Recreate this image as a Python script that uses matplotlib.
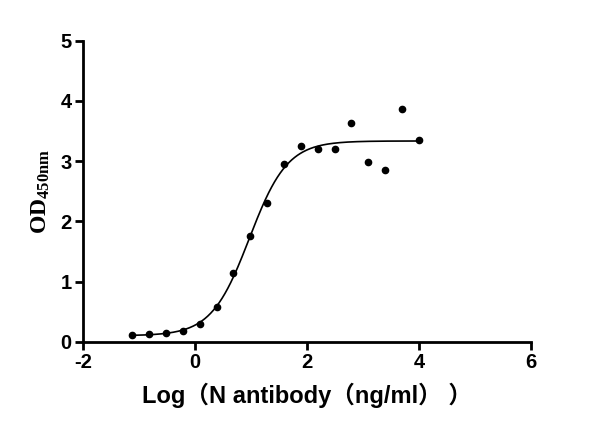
import numpy as np
import matplotlib
matplotlib.use("Agg")
import matplotlib.pyplot as plt

plt.rcParams['mathtext.fontset'] = 'custom'
plt.rcParams['mathtext.rm'] = 'Liberation Serif'
plt.rcParams['mathtext.bf'] = 'Liberation Serif:bold'
plt.rcParams['axes.unicode_minus'] = False

# Data: log10 concentration (2-fold dilutions from 10 ug/ml) and OD450
log_conc = [-1.118, -0.817, -0.516, -0.215, 0.086, 0.387, 0.688, 0.989, 1.290,
            1.591, 1.892, 2.193, 2.494, 2.795, 3.096, 3.397, 3.699, 4.000]
od450 = [0.11, 0.12, 0.145, 0.178, 0.30, 0.58, 1.14, 1.75, 2.31,
         2.95, 3.25, 3.21, 3.21, 3.63, 2.98, 2.86, 3.86, 3.35]

x = np.array(log_conc)
y = np.array(od450)

def fourpl(t, p):
    b, top, c, h = p
    return b + (top - b) / (1 + 10 ** ((c - t) * h))

# simple Levenberg-Marquardt fit of 4PL to the points
p = np.array([0.1, 3.35, 1.0, 1.3])
lam = 1e-2
for _ in range(200):
    r = y - fourpl(x, p)
    J = np.zeros((len(x), 4))
    for i in range(4):
        dp = np.zeros(4); dp[i] = 1e-6
        J[:, i] = (fourpl(x, p + dp) - fourpl(x, p - dp)) / 2e-6
    A = J.T @ J
    step = np.linalg.solve(A + lam * np.diag(np.diag(A)), J.T @ r)
    pn = p + step
    if np.sum((y - fourpl(x, pn)) ** 2) < np.sum(r ** 2):
        p = pn; lam *= 0.5
    else:
        lam *= 3

xs = np.linspace(x.min(), x.max(), 400)

fig = plt.figure(figsize=(6.0, 4.34), dpi=100)
ax = fig.add_axes([0.138, 0.2127, 0.747, 0.6933])
ax.plot(xs, fourpl(xs, p), color='black', lw=1.2)
ax.plot(x, y, 'o', color='black', ms=4.5)

ax.set_xlim(-2, 6)
ax.set_ylim(0, 5)
ax.set_xticks([-2, 0, 2, 4, 6])
ax.set_yticks([0, 1, 2, 3, 4, 5])
for s in ['top', 'right']:
    ax.spines[s].set_visible(False)
for s in ['left', 'bottom']:
    ax.spines[s].set_linewidth(2)
ax.tick_params(direction='out', length=6, width=2, labelsize=14.5, pad=2)
for lab in ax.get_xticklabels() + ax.get_yticklabels():
    lab.set_fontfamily('Liberation Sans')
    lab.set_fontweight('bold')

ax.set_xlabel('Log（N antibody（ng/ml） ）', fontsize=17, fontweight='bold',
              family=['Liberation Sans', 'Noto Sans CJK SC'], labelpad=8)
ax.set_ylabel(r'$\mathbf{OD_{450nm}}$', fontsize=17, labelpad=6)

fig.savefig('out.png', dpi=100)
